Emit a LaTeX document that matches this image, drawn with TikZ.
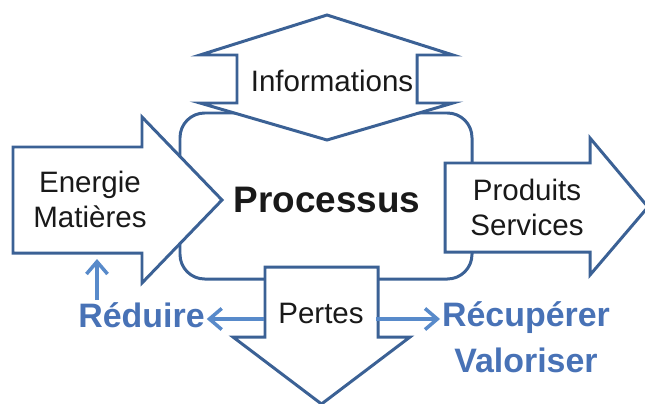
\documentclass[tikz,border=0pt]{standalone}
\usepackage{fontspec}
\setmainfont{Liberation Sans}
\usetikzlibrary{arrows.meta}

\definecolor{outline}{RGB}{59,97,149}
\definecolor{lightblue}{RGB}{88,138,202}
\definecolor{wordblue}{RGB}{72,114,182}

\begin{document}
\begin{tikzpicture}[x=0.02cm,y=-0.02cm,
	bigarrow/.style={draw=outline,fill=white,line width=1.7pt,line join=miter},
	lbl/.style={font=\fontsize{16.8}{19.9}\selectfont,text=black!90,inner sep=0pt,align=center},
	bluetxt/.style={font=\bfseries\fontsize{19.3}{26.2}\selectfont,text=wordblue,inner sep=1pt,align=center},
	bluearrow/.style={draw=lightblue,line width=2pt,-{Straight Barb[length=7pt,width=12pt]}}]

	%\draw[step = 50, very thin, gray] (0,0) grid (645,403);
	\clip (0,0) rectangle (645,403);

	%process box
	\draw [bigarrow, rounded corners=14pt] (180,113) rectangle (472,279);

	%input arrow on the left
	\draw [bigarrow] (13,147) -- (142,147) -- (142,117) -- (222,200) -- (142,283) -- (142,253) -- (13,253) -- cycle;

	%output arrow on the right
	\draw [bigarrow] (445,163) -- (590,163) -- (590,138) -- (648,207) -- (590,275) -- (590,252) -- (445,252) -- cycle;

	%double arrow on top
	\draw [bigarrow] (327,15) -- (453,55) -- (417,55) -- (417,103) -- (453,103) -- (327,140) -- (200,103) -- (237,103) -- (237,55) -- (200,55) -- cycle;

	%losses arrow at the bottom
	\draw [bigarrow] (265,267) -- (378,267) -- (378,337) -- (410,337) -- (321.5,404) -- (233,337) -- (265,337) -- cycle;

	%texts in the arrows
	\node [lbl,anchor=base] (info) at (332,91) {Informations};
	\node [lbl] (input) at (90,199) {Energie\\Matières};
	\node [lbl] (output) at (527,207) {Produits\\Services};
	\node [lbl,anchor=base,font=\bfseries\fontsize{21}{25}\selectfont] (proc) at (327,212) {Processus};
	\node [lbl,anchor=base] (pertes) at (321,323) {Pertes};

	%what to do with the losses
	\node [bluetxt,anchor=base] (reduire) at (141.5,327) {Réduire};
	\node [bluetxt] (recup) at (526,337.5) {Récupérer\\Valoriser};

	\coordinate (lossL) at (264,319);
	\coordinate (lossR) at (376,319);
	\coordinate (inBottom) at (97,259);
	\draw [bluearrow] (lossL) -- (lossL -| reduire.east);
	\draw [bluearrow] (lossR) -- (lossR -| recup.west);
	\draw [bluearrow] (reduire.north -| inBottom) -- (inBottom);

\end{tikzpicture}
\end{document}
